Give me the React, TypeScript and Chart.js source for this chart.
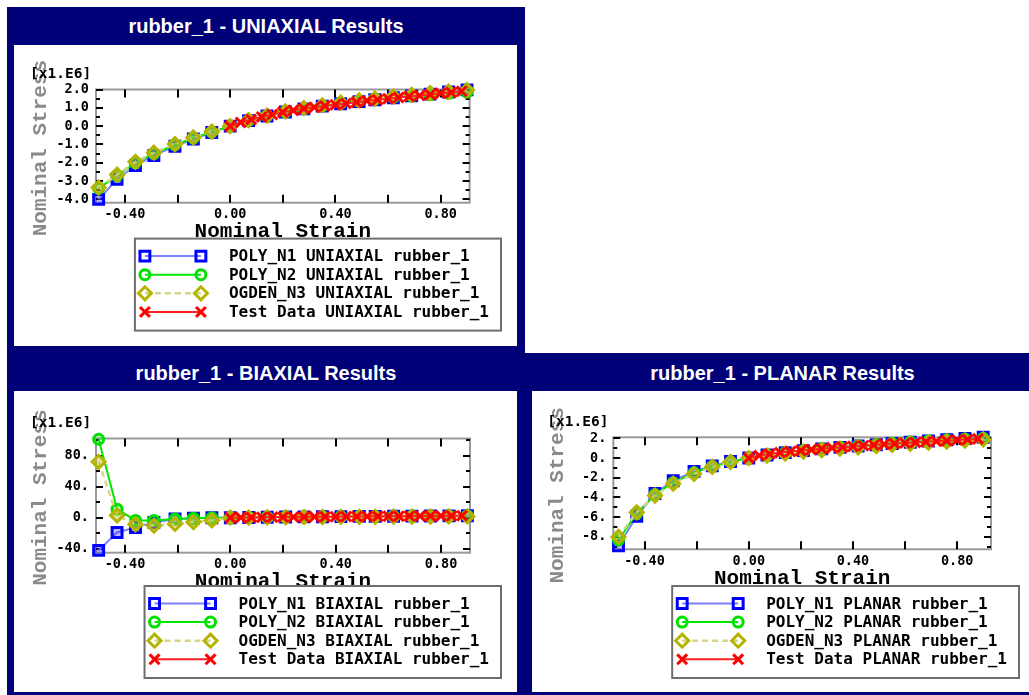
import React, { useEffect, useRef } from 'react';
import { Chart, registerables } from 'chart.js';

Chart.register(...registerables);

// ---------------- data ----------------
const MODEL_STRAIN = [-0.50, -0.43, -0.36, -0.29, -0.21, -0.14, -0.07, 0.00, 0.07, 0.14, 0.21, 0.28, 0.35, 0.42, 0.49, 0.55, 0.62, 0.69, 0.76, 0.83, 0.90];
const TEST_STRAIN = [0.00, 0.04, 0.08, 0.12, 0.16, 0.20, 0.24, 0.28, 0.32, 0.36, 0.40, 0.44, 0.48, 0.52, 0.56, 0.60, 0.64, 0.68, 0.72, 0.76, 0.80, 0.84, 0.88];

const SERIES_NAMES = ['POLY_N1', 'POLY_N2', 'OGDEN_N3', 'Test Data'];

const UNI_POLY_N1 = [-4.00, -2.90, -2.15, -1.60, -1.10, -0.70, -0.35, 0.00, 0.30, 0.55, 0.77, 0.94, 1.09, 1.22, 1.34, 1.44, 1.55, 1.65, 1.75, 1.86, 1.98];
const UNI_POLY_N2 = [-3.40, -2.70, -2.00, -1.50, -1.03, -0.65, -0.32, 0.00, 0.31, 0.56, 0.78, 0.96, 1.11, 1.25, 1.37, 1.47, 1.57, 1.65, 1.72, 1.79, 1.86];
const UNI_OGDEN_N3 = [-3.35, -2.65, -1.95, -1.45, -0.98, -0.62, -0.30, 0.00, 0.33, 0.58, 0.81, 0.99, 1.14, 1.28, 1.40, 1.50, 1.61, 1.71, 1.80, 1.89, 1.97];
const UNI_TEST = [0.00, 0.20, 0.36, 0.50, 0.63, 0.76, 0.86, 0.95, 1.03, 1.10, 1.17, 1.24, 1.31, 1.38, 1.44, 1.50, 1.56, 1.62, 1.67, 1.73, 1.79, 1.84, 1.90];

const BI_POLY_N1 = [-42.0, -19.0, -12.5, -6.0, -1.5, -0.5, 0.0, 0.0, 0.3, 0.6, 0.9, 1.1, 1.3, 1.5, 1.7, 1.8, 2.0, 2.1, 2.3, 2.4, 2.6];
const BI_POLY_N2 = [101.0, 11.0, -3.5, -3.5, -1.5, -0.5, 0.0, 0.0, 0.4, 0.7, 1.0, 1.2, 1.4, 1.6, 1.8, 1.9, 2.1, 2.2, 2.4, 2.5, 2.7];
const BI_OGDEN_N3 = [72.0, 3.0, -8.5, -10.0, -8.0, -5.5, -3.5, 0.0, 0.2, 0.4, 0.6, 0.8, 0.9, 1.0, 1.1, 1.2, 1.3, 1.4, 1.5, 1.6, 1.7];
const BI_TEST = [0.0, 0.2, 0.4, 0.6, 0.8, 0.9, 1.0, 1.1, 1.2, 1.3, 1.4, 1.5, 1.6, 1.7, 1.8, 1.9, 2.0, 2.1, 2.2, 2.3, 2.4, 2.5, 2.6];

const PL_POLY_N1 = [-8.90, -5.90, -3.60, -2.30, -1.35, -0.80, -0.35, 0.00, 0.30, 0.55, 0.75, 0.93, 1.08, 1.22, 1.35, 1.47, 1.60, 1.72, 1.85, 1.98, 2.10];
const PL_POLY_N2 = [-8.30, -5.60, -3.70, -2.50, -1.50, -0.85, -0.40, 0.00, 0.30, 0.55, 0.76, 0.94, 1.10, 1.25, 1.38, 1.50, 1.62, 1.73, 1.83, 1.92, 2.00];
const PL_OGDEN_N3 = [-8.00, -5.50, -3.80, -2.60, -1.60, -0.90, -0.40, 0.00, 0.25, 0.45, 0.65, 0.80, 0.95, 1.08, 1.20, 1.32, 1.44, 1.55, 1.66, 1.77, 1.88];
const PL_TEST = [0.00, 0.25, 0.40, 0.55, 0.65, 0.75, 0.85, 0.95, 1.03, 1.10, 1.18, 1.25, 1.32, 1.40, 1.46, 1.52, 1.58, 1.64, 1.70, 1.76, 1.82, 1.88, 1.94];

const X_TICK_LABELS = [-0.4, 0.0, 0.4, 0.8];
const X_TICK_MARKS = [-0.4, -0.2, 0.0, 0.2, 0.4, 0.6, 0.8];
const UNI_Y_TICKS = [2, 1, 0, -1, -2, -3, -4];
const UNI_Y_MINOR = [1.5, 0.5, -0.5, -1.5, -2.5, -3.5];
const BI_Y_TICKS = [80, 40, 0, -40];
const BI_Y_MINOR = [100, 60, 20, -20];
const PL_Y_TICKS = [2, 0, -2, -4, -6, -8];
const PL_Y_MINOR = [1, -1, -3, -5, -7, -9];

const X_TITLE = 'Nominal Strain';
const Y_TITLE = 'Nominal Stress';
const UNIT_LABEL = '[x1.E6]';

// ---------------- styles ----------------
const NAVY = '#000078';
const MONO = '"DejaVu Sans Mono", monospace';
const LMONO = '"Liberation Mono", monospace';

const SERIES_STYLE = [
  { line: '#8080ff', point: '#0000ff', fillc: 'rgba(40,40,255,0.35)', style: 'rect', radius: 7, dash: [] as number[], lw: 2 },
  { line: '#00e800', point: '#00e000', fillc: 'rgba(0,220,0,0.25)', style: 'circle', radius: 5, dash: [] as number[], lw: 2 },
  { line: '#d6d68a', point: '#b4b400', fillc: 'rgba(190,190,40,0.45)', style: 'rectRot', radius: 6.5, dash: [6, 4], lw: 2.5 },
  { line: '#ff2020', point: '#ff0000', fillc: 'rgba(0,0,0,0)', style: 'crossRot', radius: 7, dash: [] as number[], lw: 2 },
];

type Spec = {
  mode: string;
  x: number; y: number; w: number; h: number;
  area: { left: number; top: number; right: number; bottom: number };
  xMin: number; xMax: number; yMin: number; yMax: number;
  yTicks: number[]; yMinor: number[];
  yFmt: (v: number) => string;
  series: number[][];
  legendTop: number;
};

function drawMarker(ctx: CanvasRenderingContext2D, style: string, x: number, y: number, r: number, color: string, lw: number) {
  ctx.save();
  ctx.setLineDash([]);
  ctx.strokeStyle = color;
  ctx.lineWidth = lw;
  ctx.beginPath();
  if (style === 'rect') {
    const s = r * Math.SQRT1_2;
    ctx.rect(x - s, y - s, 2 * s, 2 * s);
  } else if (style === 'circle') {
    ctx.arc(x, y, r, 0, Math.PI * 2);
  } else if (style === 'rectRot') {
    ctx.moveTo(x - r, y); ctx.lineTo(x, y - r); ctx.lineTo(x + r, y); ctx.lineTo(x, y + r); ctx.closePath();
  } else {
    const s = r * Math.SQRT1_2;
    ctx.moveTo(x - s, y - s); ctx.lineTo(x + s, y + s);
    ctx.moveTo(x + s, y - s); ctx.lineTo(x - s, y + s);
  }
  ctx.stroke();
  ctx.restore();
}

function makeDecor(spec: Spec) {
  return {
    id: 'decor',
    beforeDatasetsDraw(chart: any) {
      const { ctx, chartArea: a } = chart;
      const xs = chart.scales.x;
      const ys = chart.scales.y;
      ctx.save();
      // rotated y-axis title
      ctx.save();
      ctx.translate(a.left - 55.5, (a.top + a.bottom) / 2 + 2);
      ctx.rotate(-Math.PI / 2);
      ctx.fillStyle = '#8a8a8a';
      ctx.font = `bold 21px ${LMONO}`;
      ctx.textAlign = 'center';
      ctx.textBaseline = 'middle';
      ctx.fillText(Y_TITLE, 0, 0);
      ctx.restore();
      // frame
      ctx.strokeStyle = '#9a9a9a';
      ctx.lineWidth = 2;
      ctx.strokeRect(a.left, a.top, a.right - a.left, a.bottom - a.top);
      ctx.strokeStyle = '#000';
      ctx.lineWidth = 2;
      ctx.beginPath();
      for (const v of X_TICK_MARKS) {
        const p = Math.round(xs.getPixelForValue(v));
        ctx.moveTo(p, a.bottom); ctx.lineTo(p, a.bottom - 8);
        ctx.moveTo(p, a.top); ctx.lineTo(p, a.top + 8);
      }
      for (const v of spec.yTicks) {
        const p = Math.round(ys.getPixelForValue(v));
        ctx.moveTo(a.left, p); ctx.lineTo(a.left + 7, p);
        ctx.moveTo(a.right, p); ctx.lineTo(a.right - 7, p);
      }
      for (const v of spec.yMinor) {
        if (v < spec.yMin || v > spec.yMax) continue;
        const p = Math.round(ys.getPixelForValue(v));
        ctx.moveTo(a.left, p); ctx.lineTo(a.left + 4, p);
        ctx.moveTo(a.right, p); ctx.lineTo(a.right - 4, p);
      }
      ctx.stroke();
      ctx.restore();
    },
    afterDraw(chart: any) {
      const { ctx, chartArea: a } = chart;
      ctx.save();
      // unit label
      ctx.fillStyle = '#000';
      ctx.font = `bold 14.5px ${MONO}`;
      ctx.textAlign = 'left';
      ctx.textBaseline = 'middle';
      ctx.fillText(UNIT_LABEL, a.left - 66, a.top - 15);

      // legend box
      const ds = chart.data.datasets;
      ctx.font = `bold 16px ${MONO}`;
      let maxW = 0;
      for (const d of ds) maxW = Math.max(maxW, ctx.measureText(d.label).width);
      const right = 487;
      const left = right - maxW - 94 - 12;
      const top = spec.legendTop;
      ctx.strokeStyle = '#6e6e6e';
      ctx.lineWidth = 2;
      ctx.strokeRect(left, top, right - left, 92);
      ds.forEach((d: any, i: number) => {
        const st = SERIES_STYLE[i];
        const y = top + 17.5 + i * 18.6;
        ctx.save();
        ctx.strokeStyle = st.line;
        ctx.lineWidth = st.lw;
        ctx.setLineDash(st.dash);
        ctx.beginPath();
        ctx.moveTo(left + 10, y);
        ctx.lineTo(left + 66, y);
        ctx.stroke();
        ctx.restore();
        drawMarker(ctx, st.style, left + 10, y, st.radius, st.point, 3);
        drawMarker(ctx, st.style, left + 66, y, st.radius, st.point, 3);
        ctx.fillStyle = '#000';
        ctx.textAlign = 'left';
        ctx.textBaseline = 'middle';
        ctx.fillText(d.label, left + 94, y + 1);
      });
      ctx.restore();
    },
  };
}

function buildConfig(spec: Spec): any {
  const a = spec.area;
  const X_AXIS_H = 40;
  const xsets = [MODEL_STRAIN, MODEL_STRAIN, MODEL_STRAIN, TEST_STRAIN];
  const datasets = spec.series.map((vals, i) => {
    const st = SERIES_STYLE[i];
    return {
      label: `${SERIES_NAMES[i]} ${spec.mode} rubber_1`,
      data: vals.map((v, j) => ({ x: xsets[i][j], y: v })),
      borderColor: st.line,
      borderWidth: st.lw,
      borderDash: st.dash,
      pointStyle: st.style,
      pointRadius: st.radius,
      pointBorderColor: st.point,
      pointBackgroundColor: st.fillc,
      pointBorderWidth: 3,
      tension: 0,
      fill: false,
      clip: false,
      order: 3 - i,
    };
  });
  const tickFont = { family: MONO, size: 13.5, weight: 'bold' as const };
  const titleFont = { family: LMONO, size: 21, weight: 'bold' as const, lineHeight: 1 };
  return {
    type: 'line',
    data: { datasets },
    options: {
      animation: false,
      responsive: false,
      devicePixelRatio: 1,
      events: [],
      layout: {
        autoPadding: false,
        padding: { left: 0, top: a.top, right: spec.w - a.right, bottom: spec.h - a.bottom - X_AXIS_H },
      },
      plugins: { legend: { display: false }, tooltip: { enabled: false }, title: { display: false } },
      scales: {
        x: {
          type: 'linear',
          position: 'bottom',
          min: spec.xMin,
          max: spec.xMax,
          bounds: 'data',
          afterBuildTicks: (s: any) => { s.ticks = X_TICK_LABELS.map((v) => ({ value: v })); },
          afterFit: (s: any) => { s.height = X_AXIS_H; },
          ticks: { callback: (v: any) => Number(v).toFixed(2), font: tickFont, color: '#000', padding: 4, maxRotation: 0, autoSkip: false },
          grid: { display: false, drawTicks: false },
          border: { display: false },
          title: { display: true, text: X_TITLE, color: '#000', font: titleFont, padding: { top: 0, bottom: 0.5 } },
        },
        y: {
          type: 'linear',
          position: 'left',
          min: spec.yMin,
          max: spec.yMax,
          bounds: 'data',
          afterBuildTicks: (s: any) => { s.ticks = spec.yTicks.map((v) => ({ value: v })); },
          afterFit: (s: any) => { s.width = a.left; },
          ticks: { callback: (v: any) => spec.yFmt(Number(v)), font: tickFont, color: '#000', padding: 7, autoSkip: false },
          grid: { display: false, drawTicks: false },
          border: { display: false },
          title: { display: false },
        },
      },
    },
    plugins: [makeDecor(spec)],
  };
}

const SPECS: Spec[] = [
  {
    mode: 'UNIAXIAL', x: 14, y: 45, w: 503, h: 301,
    area: { left: 82, top: 44.5, right: 455.6, bottom: 157.7 },
    xMin: -0.51, xMax: 0.91, yMin: -4.18, yMax: 2.0,
    yTicks: UNI_Y_TICKS, yMinor: UNI_Y_MINOR, yFmt: (v) => v.toFixed(1),
    series: [UNI_POLY_N1, UNI_POLY_N2, UNI_OGDEN_N3, UNI_TEST],
    legendTop: 193.6,
  },
  {
    mode: 'BIAXIAL', x: 14, y: 391, w: 503, h: 301,
    area: { left: 82, top: 47.5, right: 456, bottom: 161.7 },
    xMin: -0.51, xMax: 0.91, yMin: -45, yMax: 102,
    yTicks: BI_Y_TICKS, yMinor: BI_Y_MINOR, yFmt: (v) => `${v}.`,
    series: [BI_POLY_N1, BI_POLY_N2, BI_OGDEN_N3, BI_TEST],
    legendTop: 195,
  },
  {
    mode: 'PLANAR', x: 532, y: 391, w: 497, h: 301,
    area: { left: 81.3, top: 46.3, right: 459, bottom: 158.3 },
    xMin: -0.52, xMax: 0.93, yMin: -9.25, yMax: 2.1,
    yTicks: PL_Y_TICKS, yMinor: PL_Y_MINOR, yFmt: (v) => `${v}.`,
    series: [PL_POLY_N1, PL_POLY_N2, PL_OGDEN_N3, PL_TEST],
    legendTop: 195,
  },
];

function Panel({ spec }: { spec: Spec }) {
  const ref = useRef<HTMLCanvasElement>(null);
  useEffect(() => {
    const chart = new Chart(ref.current as HTMLCanvasElement, buildConfig(spec));
    return () => chart.destroy();
  }, [spec]);
  return (
    <canvas
      ref={ref}
      width={spec.w}
      height={spec.h}
      style={{ position: 'absolute', left: spec.x, top: spec.y, width: spec.w, height: spec.h, background: '#fff', display: 'block' }}
    />
  );
}

const titleStyle = (left: number, top: number, width: number, height: number): React.CSSProperties => ({
  position: 'absolute', left, top, width, height,
  display: 'flex', alignItems: 'center', justifyContent: 'center',
  color: '#fff', font: 'bold 20px "Liberation Sans", Arial, sans-serif', whiteSpace: 'nowrap',
});

export default function App() {
  return (
    <div style={{ position: 'absolute', left: 0, top: 0, width: 1029, height: 695, overflow: 'hidden', background: '#fff' }}>
      <div style={{ position: 'absolute', left: 7, top: 7, width: 518, height: 390, background: NAVY }} />
      <div style={{ position: 'absolute', left: 7, top: 353, width: 1040, height: 342, background: NAVY }} />
      <div style={titleStyle(7, 7, 518, 38)}>rubber_1 - UNIAXIAL Results</div>
      <div style={titleStyle(7, 355, 518, 36)}>rubber_1 - BIAXIAL Results</div>
      <div style={titleStyle(525, 355, 515, 36)}>rubber_1 - PLANAR Results</div>
      {SPECS.map((s) => (
        <Panel key={s.mode} spec={s} />
      ))}
    </div>
  );
}
